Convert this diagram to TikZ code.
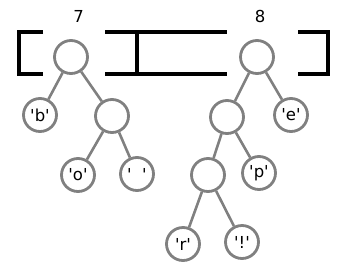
\documentclass[tikz,border=0pt]{standalone}
\usepackage{fontspec}
\usepackage{tikz}
\usepackage{xcolor}
\usetikzlibrary{positioning}
\newfontfamily\treefont{DejaVu Sans}[Ligatures=TeXOff]
\definecolor{NodeGray}{HTML}{808080}
\tikzset{
  treenode/.style={circle, draw=NodeGray, line width=2.8pt, fill=white, minimum size=33pt, inner sep=0pt, font=\treefont\fontsize{16.5}{18}\selectfont},
  weight/.style={font=\treefont\fontsize{16.5}{18}\selectfont, inner sep=0pt},
  edge/.style={draw=NodeGray, line width=2.6pt},
  bracket/.style={draw=black, line width=4pt}
}

\begin{document}
\begin{tikzpicture}[x=1pt, y=-1pt, on grid]
    \useasboundingbox (0,0) rectangle (344,273);
    % list brackets
    \draw[bracket] (43,32) -- (19,32) -- (19,74) -- (43,74);
    \draw[bracket] (105,32) -- (227,32);
    \draw[bracket] (105,74) -- (227,74);
    \draw[bracket] (137,32) -- (137,74);
    \draw[bracket] (298,32) -- (328,32) -- (328,74) -- (298,74);

    % first tree
    \node[treenode] (r7) at (71,57) {};
    \node[weight, above right=41pt and 7.5pt of r7] (w7) {7};
    \node[treenode, below left=58pt and 31pt of r7] (b) {'b'};
    \node[treenode, below right=59pt and 41pt of r7] (c7) {};
    \node[treenode, below left=59pt and 34pt of c7] (o) {'o'};
    \node[treenode, below right=58pt and 25pt of c7] (sp) {'\ \ '};

    % second tree
    \node[treenode] (r8) at (257,57) {};
    \node[weight, above right=41pt and 3pt of r8] (w8) {8};
    \node[treenode, below left=60pt and 30pt of r8] (c8) {};
    \node[treenode, below right=58pt and 34pt of r8] (e) {'e'};
    \node[treenode, below left=58pt and 19pt of c8] (m) {};
    \node[treenode, below right=56pt and 32pt of c8] (p) {'p'};
    \node[treenode, below left=69pt and 25pt of m] (r) {'r'};
    \node[treenode, below right=67pt and 34pt of m] (ex) {'!'};

    \draw[edge] (r7) -- (b);
    \draw[edge] (r7) -- (c7);
    \draw[edge] (c7) -- (o);
    \draw[edge] (c7) -- (sp);
    \draw[edge] (r8) -- (c8);
    \draw[edge] (r8) -- (e);
    \draw[edge] (c8) -- (m);
    \draw[edge] (c8) -- (p);
    \draw[edge] (m) -- (r);
    \draw[edge] (m) -- (ex);
  \end{tikzpicture}
\end{document}
